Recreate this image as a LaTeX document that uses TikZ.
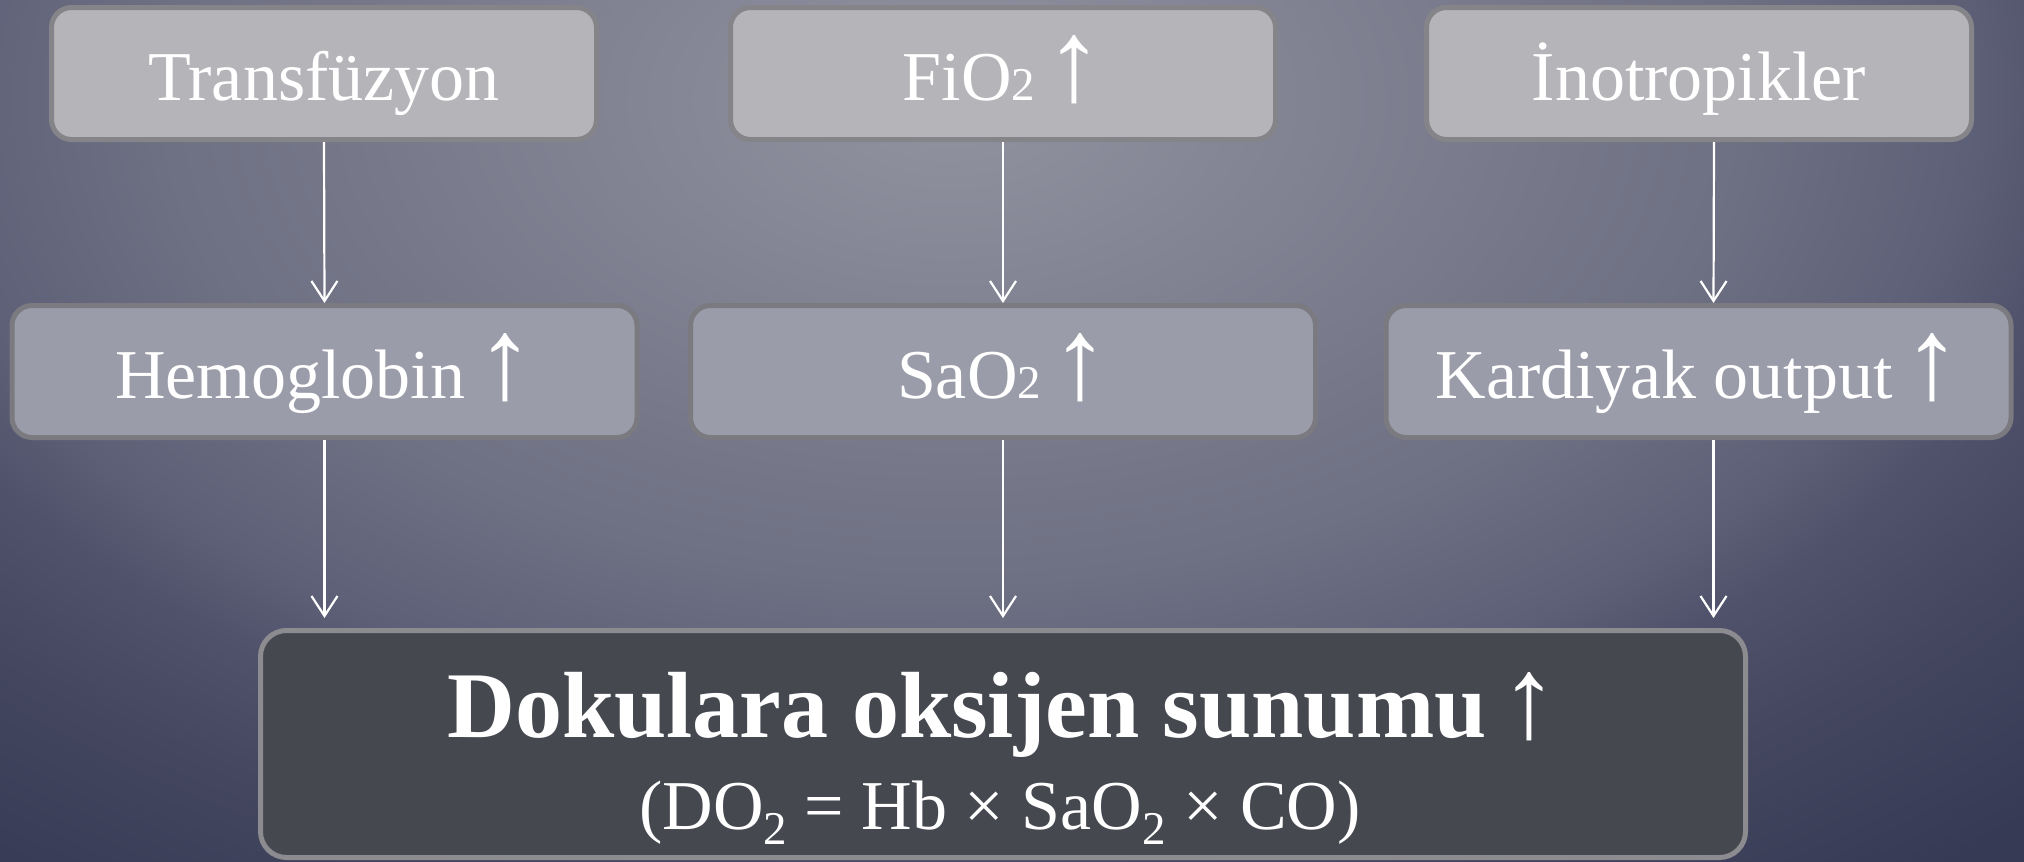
\documentclass[tikz,border=0pt]{standalone}
\usepackage{fontspec}
\setmainfont{Liberation Serif}
\usetikzlibrary{arrows.meta,calc}
\definecolor{bgA}{HTML}{9193A0}
\definecolor{bgB}{HTML}{6E7083}
\definecolor{bgC}{HTML}{5E6078}
\definecolor{bgD}{HTML}{50526B}
\definecolor{bgE}{HTML}{44475F}
\definecolor{bgF}{HTML}{363A55}
\definecolor{topFill}{HTML}{B5B4B9}
\definecolor{topLine}{HTML}{858489}
\definecolor{midFill}{HTML}{9B9CA9}
\definecolor{midLine}{HTML}{7A7A80}
\definecolor{botFill}{HTML}{464850}
\definecolor{botLine}{HTML}{8B8B90}
\pgfdeclareradialshading{bgshade}{\pgfpoint{0bp}{0bp}}{color(0bp)=(bgA); color(21.6bp)=(bgB); color(28.1bp)=(bgC); color(31.3bp)=(bgD); color(36bp)=(bgE); color(43.9bp)=(bgF); color(50bp)=(bgF)}
\newcommand{\myup}{{\mdseries\fontsize{70}{70}\selectfont\resizebox{!}{65pt}{↑}}}
\newcommand{\smtwo}{{\fontsize{47}{47}\selectfont 2}}
\newcommand{\subtwo}{\raisebox{-15pt}{\fontsize{47}{47}\selectfont 2}}
\begin{document}
\begin{tikzpicture}[x=1pt,y=-1pt,
  basebox/.style={line width=5pt, inner sep=0pt, text=white,
    font=\fontsize{70}{84}\selectfont, text height=53pt, text depth=0pt},
  topbox/.style={basebox, draw=topLine, fill=topFill, rounded corners=20pt,
    minimum width=545pt, minimum height=132pt},
  midbox/.style={basebox, draw=midLine, fill=midFill, rounded corners=20pt,
    minimum width=625pt, minimum height=132pt},
  botbox/.style={line width=5pt, inner sep=0pt, draw=botLine, fill=botFill,
    rounded corners=26pt, minimum width=1485pt, minimum height=227pt},
  conn/.style={draw=white, line width=2.2pt,
    -{Straight Barb[length=20pt,width=26pt,line width=2.2pt]}},
  lbl/.style={anchor=base, text=white, inner sep=0pt}]
\useasboundingbox (0,0) rectangle (2024,862);
\fill[bgF] (0,0) rectangle (2024,862);
\begin{scope}
  \clip (0,0) rectangle (2024,862);
  \begin{scope}[transform canvas={shift={(950pt,-100pt)}, xscale=36.1, yscale=22.2}]
    \node[inner sep=0pt, outer sep=0pt] (bgsh) at (0pt,0pt) {\pgfuseshading{bgshade}};
  \end{scope}
\end{scope}

\node[topbox] (T1) at (324,73.5) {Transfüzyon};
\node[topbox] (T2) at (1003,73.5) {FiO\smtwo\kern10pt\myup};
\node[topbox] (T3) at (1699,73.5) {İnotropikler};

\node[midbox] (M1) at (324.5,371.5) {Hemoglobin\kern11pt\myup};
\node[midbox] (M2) at (1003,371.5) {SaO\smtwo\kern10pt\myup};
\node[midbox] (M3) at (1698.5,371.5) {Kardiyak output\kern11pt\myup};

\node[botbox] (D) at (1003,744) {};
\node[lbl, font=\bfseries\fontsize{94}{94}\selectfont] (DT) at (1003,737) {Dokulara oksijen sunumu\kern14pt\myup};
\node[lbl, font=\fontsize{70}{70}\selectfont] (DF) at (1000,829) {(DO\subtwo\ = Hb × SaO\subtwo\ × CO)};

\coordinate (r3a) at ($(T3.south)+(15,0)$);
\coordinate (r3b) at ($(M3.north)+(15,0)$);
\coordinate (r3c) at ($(M3.south)+(15,0)$);

\draw[conn] (T1.south) -- (M1.north);
\draw[conn] (T2.south) -- (M2.north);
\draw[conn] (r3a) -- (r3b);
\draw[conn, shorten >=10pt] (M1.south) -- (M1.south |- D.north);
\draw[conn, shorten >=10pt] (M2.south) -- (M2.south |- D.north);
\draw[conn, shorten >=10pt] (r3c) -- (r3c |- D.north);
\end{tikzpicture}
\end{document}
